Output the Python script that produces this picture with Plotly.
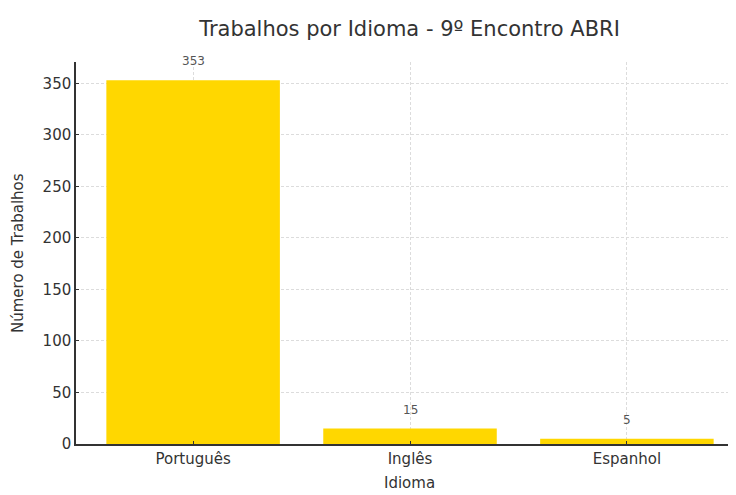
import plotly.graph_objects as go

idiomas = ["Português", "Inglês", "Espanhol"]
trabalhos = [353, 15, 5]
y_ticks = [0, 50, 100, 150, 200, 250, 300, 350]

# the page body has an 8px margin, so the figure starts at (8, 8)
OFF = 8
W, H = 736 - OFF, 495 - OFF
L, R, T = 76 - OFF, 0, 62 - OFF
B = H - (444 - OFF)
FONT = "DejaVu Sans"
PW, PH = W - L - R, H - T - B

fig = go.Figure()
fig.add_trace(go.Bar(
    x=idiomas, y=trabalhos, width=0.8,
    marker=dict(color="#FFD700", line=dict(width=0)),
    hoverinfo="skip",
))

for cat, val in zip(idiomas, trabalhos):
    fig.add_annotation(x=cat, y=val, text=str(val), showarrow=False,
                       yanchor="middle", yshift=19,
                       font=dict(family=FONT, size=12, color="#555555"))

# axis titles
fig.add_annotation(xref="paper", yref="paper",
                   x=(409.5 - OFF - L) / PW, y=-(483 - 444) / PH,
                   text="Idioma", showarrow=False, xanchor="center", yanchor="middle",
                   font=dict(family=FONT, size=15, color="#333333"))
fig.add_annotation(xref="paper", yref="paper",
                   x=-(76 - 18) / PW, y=0.5,
                   text="Número de Trabalhos", showarrow=False, textangle=-90,
                   xanchor="center", yanchor="middle",
                   font=dict(family=FONT, size=15, color="#333333"))

axis_common = dict(
    showline=True, linecolor="#333333", linewidth=1.5, mirror=False,
    ticks="inside", ticklen=3, tickwidth=1, tickcolor="#333333",
    showgrid=True, gridcolor="#dcdcdc", griddash="3px,2px", gridwidth=0.8,
    zeroline=False, automargin=False,
    tickfont=dict(family=FONT, size=15, color="#333333"),
)

fig.update_layout(
    width=W, height=H,
    margin=dict(l=L, r=R, t=T, b=B, pad=0, autoexpand=False),
    paper_bgcolor="white", plot_bgcolor="white",
    showlegend=False,
    title=dict(text="Trabalhos por Idioma - 9º Encontro ABRI",
               x=(409.5 - OFF) / W, xref="container", xanchor="center",
               y=1 - (29 - OFF) / H, yref="container", yanchor="middle",
               font=dict(family=FONT, size=21, color="#333333")),
    xaxis=dict(range=[-0.54, 2.503], type="category", **axis_common),
    yaxis=dict(range=[0, 370.65], tickvals=y_ticks, **axis_common),
    bargap=0.2,
)

fig.write_html("out.html")
